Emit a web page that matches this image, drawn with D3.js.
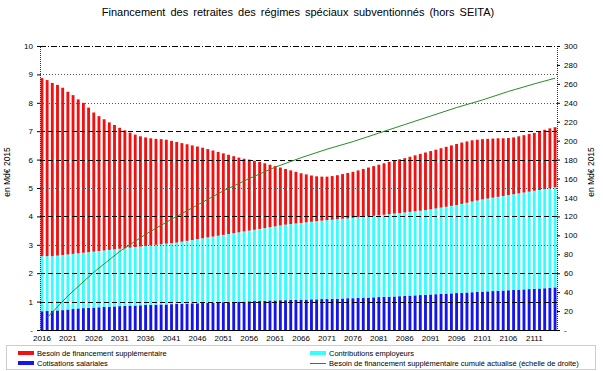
<!DOCTYPE html>
<html>
<head>
<meta charset="utf-8">
<style>
  body { margin: 0; background: #fff; }
  text { font-family: "Liberation Sans", Arial, sans-serif; fill: #000; }
</style>
</head>
<body>
<script src="https://cdnjs.cloudflare.com/ajax/libs/d3/7.8.5/d3.min.js"></script>
<svg id="chart" width="603" height="371"></svg>
<script>

// years 2016 .. 2115
const years = d3.range(2016, 2116);

// Cotisations salariales (Md€ 2015)
const cotisations = [
  0.66,0.67,0.68,0.69,0.70,0.72,0.74,0.76,0.77,0.78,
  0.79,0.80,0.81,0.82,0.83,0.84,0.85,0.86,0.86,0.87,
  0.88,0.88,0.89,0.90,0.90,0.91,0.92,0.92,0.93,0.94,
  0.94,0.95,0.96,0.96,0.97,0.98,0.98,0.99,1.00,1.00,
  1.01,1.02,1.02,1.03,1.04,1.04,1.05,1.05,1.06,1.06,
  1.07,1.07,1.08,1.08,1.09,1.09,1.10,1.10,1.11,1.12,
  1.12,1.13,1.14,1.14,1.15,1.16,1.17,1.17,1.18,1.19,
  1.20,1.21,1.22,1.23,1.24,1.25,1.26,1.27,1.28,1.29,
  1.30,1.31,1.32,1.33,1.34,1.35,1.36,1.37,1.38,1.39,
  1.40,1.41,1.42,1.43,1.44,1.45,1.46,1.47,1.48,1.50
];

// Contributions employeurs
const contributions = [
  1.94,1.93,1.92,1.93,1.94,1.94,1.94,1.94,1.95,1.96,
  1.97,1.98,1.99,2.00,2.01,2.02,2.03,2.04,2.06,2.07,
  2.08,2.10,2.11,2.12,2.14,2.15,2.16,2.19,2.21,2.23,
  2.26,2.28,2.30,2.33,2.35,2.37,2.40,2.42,2.44,2.47,
  2.49,2.51,2.54,2.56,2.58,2.61,2.63,2.66,2.67,2.69,
  2.70,2.72,2.73,2.75,2.76,2.78,2.78,2.80,2.81,2.81,
  2.83,2.84,2.84,2.86,2.87,2.88,2.89,2.91,2.92,2.93,
  2.94,2.95,2.96,2.97,2.98,3.00,3.02,3.04,3.06,3.08,
  3.10,3.13,3.16,3.19,3.22,3.25,3.27,3.29,3.31,3.33,
  3.35,3.37,3.39,3.41,3.43,3.45,3.47,3.49,3.51,3.53
];

// Besoin de financement supplémentaire
const besoin = [
  6.27,6.20,6.10,6.01,5.89,5.73,5.59,5.42,5.28,5.09,
  4.90,4.75,4.62,4.49,4.38,4.26,4.15,4.05,3.96,3.88,
  3.82,3.77,3.73,3.70,3.66,3.60,3.54,3.47,3.40,3.33,
  3.26,3.19,3.11,3.03,2.95,2.87,2.79,2.71,2.63,2.56,
  2.50,2.43,2.36,2.28,2.20,2.12,2.04,1.96,1.89,1.82,
  1.75,1.69,1.63,1.58,1.55,1.53,1.54,1.55,1.57,1.60,
  1.62,1.65,1.69,1.72,1.75,1.78,1.81,1.84,1.87,1.89,
  1.91,1.94,1.97,2.00,2.03,2.05,2.07,2.09,2.11,2.13,
  2.15,2.16,2.16,2.16,2.14,2.12,2.10,2.08,2.06,2.03,
  2.01,2.00,2.01,2.02,2.03,2.04,2.06,2.09,2.11,2.11
];

// Besoin cumulé actualisé (échelle de droite)
const cumulYears = [2017,2021,2026,2031,2036,2041,2046,2051,2056,2061,2066,2071,2076,2081,2086,2091,2096,2101,2106,2111,2115];
const cumulValues = [13,36,61,83,101,117,132,147,160,172,182,191,199,208,217,226,235,243,252,260,266];

const leftTicks = d3.range(0, 11);
const rightTicks = d3.range(0, 301, 20);
const yearTicks = d3.range(2016, 2116, 5);

const seriesNames = ['Cotisations salariales', 'Contributions employeurs', 'Besoin de financement supplémentaire'];
const seriesColors = ['#1414f0', '#33ffff', '#f21010'];

const svg = d3.select('#chart');
const m = { left: 40, right: 557, top: 46, bottom: 330 };

const x = d3.scaleBand().domain(years).range([m.left, m.right]).paddingInner(0.45).paddingOuter(0.1);
const y = d3.scaleLinear().domain([0, 10]).range([m.bottom, m.top]);
const y2 = d3.scaleLinear().domain([0, 300]).range([m.bottom, m.top]);

// title
svg.append('text')
  .attr('x', 298).attr('y', 16)
  .attr('text-anchor', 'middle')
  .style('font-size', '11px')
  .style('word-spacing', '2px')
  .text('Financement des retraites des régimes spéciaux subventionnés (hors SEITA)');

// stacked bars
const table = years.map((yr, i) => ({ year: yr, s0: cotisations[i], s1: contributions[i], s2: besoin[i] }));
const stack = d3.stack().keys(['s0', 's1', 's2'])(table);

svg.append('g')
  .selectAll('g')
  .data(stack)
  .join('g')
  .attr('fill', (d, i) => seriesColors[i])
  .selectAll('rect')
  .data(d => d)
  .join('rect')
  .attr('x', d => x(d.data.year))
  .attr('width', x.bandwidth())
  .attr('y', d => y(d[1]))
  .attr('height', d => y(d[0]) - y(d[1]));

// grid lines
const gridStyle = {10: '6,2,1,2', 9: '1,2', 8: '1,2', 7: '5,3', 6: '5,3', 5: '1,2', 4: '5,3', 3: '1,2', 2: '5,3', 1: '5,3'};
svg.append('g')
  .selectAll('line')
  .data(leftTicks.filter(t => t > 0))
  .join('line')
  .attr('x1', m.left).attr('x2', m.right)
  .attr('y1', d => Math.round(y(d)) + 0.5).attr('y2', d => Math.round(y(d)) + 0.5)
  .attr('stroke', d => gridStyle[d] === '1,2' ? '#555' : '#000')
  .attr('stroke-width', 1)
  .attr('stroke-dasharray', d => gridStyle[d]);

// cumulative line
const line = d3.line()
  .x(d => x(d[0]) + x.bandwidth() / 2)
  .y(d => y2(d[1]));
svg.append('path')
  .datum(cumulYears.map((yr, i) => [yr, cumulValues[i]]))
  .attr('d', line)
  .attr('fill', 'none')
  .attr('stroke', '#2a8a2a')
  .attr('stroke-width', 1);

// left axis
const fmt = d => d === 0 ? '-' : d;
const leftAxis = svg.append('g')
  .attr('transform', `translate(${m.left},0)`)
  .call(d3.axisLeft(y).tickValues(leftTicks).tickSize(3).tickFormat(fmt));
leftAxis.select('.domain').attr('stroke', '#333').attr('stroke-dasharray', '1,1');
leftAxis.selectAll('text').style('font-size', '8px').attr('x', -7);

// right axis
const rightAxis = svg.append('g')
  .attr('transform', `translate(${m.right},0)`)
  .call(d3.axisRight(y2).tickValues(rightTicks).tickSize(3).tickFormat(fmt));
rightAxis.select('.domain').attr('stroke', '#333').attr('stroke-dasharray', '1,1');
rightAxis.selectAll('text').style('font-size', '8px').attr('x', 7);

// bottom axis
const bottomAxis = svg.append('g')
  .attr('transform', `translate(0,${m.bottom})`)
  .call(d3.axisBottom(x).tickValues(yearTicks).tickSize(0).tickSizeOuter(0));
bottomAxis.select('.domain').attr('stroke', '#000');
bottomAxis.selectAll('text').style('font-size', '8px').attr('dy', '1em');

// axis titles
svg.append('text')
  .attr('transform', 'translate(10,172) rotate(-90)')
  .attr('text-anchor', 'middle')
  .style('font-size', '8.5px')
  .text('en Md€ 2015');
svg.append('text')
  .attr('transform', 'translate(594,172) rotate(-90)')
  .attr('text-anchor', 'middle')
  .style('font-size', '8.5px')
  .text('en Md€ 2015');

// legend
svg.append('rect')
  .attr('x', 6.5).attr('y', 345.5).attr('width', 589).attr('height', 24)
  .attr('fill', 'none').attr('stroke', '#999').attr('stroke-dasharray', '1,1');

const legendItems = [
  { name: seriesNames[2], color: seriesColors[2], kind: 'rect', lx: 18, ly: 353 },
  { name: seriesNames[0], color: seriesColors[0], kind: 'rect', lx: 18, ly: 363 },
  { name: seriesNames[1], color: seriesColors[1], kind: 'rect', lx: 310, ly: 353 },
  { name: 'Besoin de financement supplémentaire cumulé actualisé (échelle de droite)', color: '#2a8a2a', kind: 'line', lx: 310, ly: 363 }
];
const lg = svg.append('g').selectAll('g').data(legendItems).join('g')
  .attr('transform', d => `translate(${d.lx},${d.ly})`);
lg.filter(d => d.kind === 'rect').append('rect')
  .attr('x', 0).attr('y', -2).attr('width', 16).attr('height', 4)
  .attr('fill', d => d.color);
lg.filter(d => d.kind === 'line').append('line')
  .attr('x1', 0).attr('x2', 16).attr('y1', 0.5).attr('y2', 0.5)
  .attr('stroke', d => d.color).attr('stroke-width', 1);
lg.append('text')
  .attr('x', 19).attr('y', 3)
  .style('font-size', '7.5px')
  .text(d => d.name);

</script>
</body>
</html>
